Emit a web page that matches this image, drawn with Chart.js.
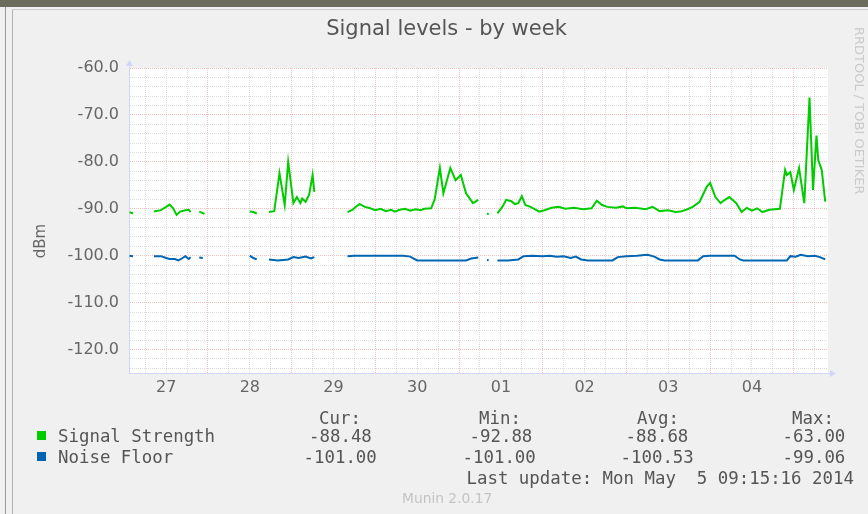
<!DOCTYPE html>
<html>
<head>
<meta charset="utf-8">
<title>Signal levels - by week</title>
<script src="https://cdn.jsdelivr.net/npm/chart.js@4.4.1/dist/chart.umd.min.js"></script>
<style>
    html, body { margin: 0; padding: 0; }
    body {
        width: 868px; height: 514px; position: relative; overflow: hidden;
        background: #f0f0f0; font-family: "DejaVu Sans", sans-serif;
    }
    #topbar { position: absolute; left: 0; top: 0; width: 868px; height: 7px; background: #6c6d5d; }
    #edge1 { position: absolute; left: 5px; top: 7px; width: 1px; height: 507px; background: #9a9a9a; }
    #edge2 { position: absolute; left: 12px; top: 9px; width: 1px; height: 505px; background: #b4b4b4; }
    #edgeTop { position: absolute; left: 12px; top: 9px; width: 856px; height: 1px; background: #cfcfcf; }
    #wrap { position: absolute; left: 0; top: 0; width: 868px; height: 514px; }
    .mono {
        position: absolute; white-space: pre; font-family: "DejaVu Sans Mono", monospace;
        font-size: 17.4px; line-height: 20px; color: #555;
    }
    .swatch { position: absolute; width: 9px; height: 9px; }
    #ylabel {
        position: absolute; left: 10px; top: 231px; width: 60px; height: 20px; line-height: 20px;
        text-align: center; font-size: 15px; color: #666; transform: rotate(-90deg);
    }
    #munin { position: absolute; left: 402px; top: 490px; font-size: 13.8px; line-height: 16px; color: #c4c4c4; }
    #rrd {
        position: absolute; left: 852px; top: 27px; writing-mode: vertical-rl;
        font-size: 13px; line-height: 14px; color: #cacaca;
    }
</style>
</head>
<body>
<div id="topbar"></div>
<div id="edge1"></div>
<div id="edge2"></div>
<div id="edgeTop"></div>
<div id="wrap"><canvas id="signalChart" width="868" height="514"></canvas></div>
<div id="ylabel">dBm</div>
<div id="rrd">RRDTOOL / TOBI OETIKER</div>
<div id="munin">Munin 2.0.17</div>
<div id="legend"></div>

<script>
// hours since Apr 27 00:00, 30 min samples (null = no data)
const dayLabels = ['27', '28', '29', '30', '01', '02', '03', '04'];

const signalHours = [
    1.5, 2.5, 5,
    8.5, 10.5, 12, 13, 14, 15, 16, 17.5, 18.5, 19, 20,
    21.5, 23, 30,
    36, 37, 38, 40,
    41.5, 43, 44.5, 46, 47, 48.5, 49.5, 50.5, 51, 52, 53, 54, 54.5, 60,
    64, 65.5, 66.5, 67.5, 69, 70.5, 72, 73.5, 75, 76.5, 77.5, 79, 80.5, 82, 83.5, 85, 86, 88, 89,
    90.5, 91.5, 93.5, 95, 96.5, 98, 100, 101.5, 103,
    104, 104.5, 106,
    107, 108.5, 109.5, 111, 112, 113, 114, 115, 116.5, 119, 120.5, 122.5, 124.5, 126.5, 129,
    131.5, 134, 135.5, 137, 138.5, 141, 143, 144, 146.5, 149.5, 151.5, 153.5, 156, 158, 159.5,
    161.5, 163, 165, 167, 168, 169.5, 171, 172, 173.5, 175.5, 177, 178.5, 180, 181.5, 183, 185,
    188, 189.5, 190, 191, 192, 193.5, 195, 196.5, 197.5, 198.5, 199, 200, 201
];
const signalDbm = [
    -90.7, -91.0, null,
    -90.6, -90.3, -89.6, -89.1, -89.9, -91.3, -90.6, -90.3, -90.2, -90.7, null,
    -90.6, -91.1, null,
    -90.6, -90.7, -91.0, null,
    -90.7, -90.5, -82.4, -89.2, -80.0, -88.8, -87.5, -88.8, -87.8, -88.5, -87.0, -82.8, -86.4, null,
    -90.7, -90.2, -89.5, -89.0, -89.6, -89.9, -90.3, -90.0, -90.5, -90.2, -90.6, -90.2, -90.0, -90.4, -90.1, -90.3, -90.0, -89.9, -88.0,
    -81.3, -86.7, -81.3, -83.9, -82.8, -86.7, -88.8, -88.1, null,
    -91.0, -91.2, null,
    -91.0, -89.5, -88.1, -88.4, -89.0, -88.8, -87.3, -89.2, -89.6, -90.6, -90.3, -89.8, -89.6, -90.0, -89.8,
    -90.1, -89.9, -88.3, -89.2, -89.6, -89.8, -89.5, -89.9, -89.8, -90.1, -89.6, -90.5, -90.3, -90.7, -90.6,
    -90.1, -89.6, -88.5, -85.3, -84.5, -87.5, -88.8, -88.2, -87.5, -88.8, -90.7, -89.8, -90.4, -89.9, -90.7, -90.2,
    -90.0, -81.7, -82.8, -82.2, -86.0, -81.3, -88.8, -66.3, -86.0, -74.4, -79.6, -81.7, -88.5
];

const noiseHours = [
    1.5, 2.5, 5,
    8.5, 10.5, 12, 13, 14.5, 15.5, 16.5, 17.5, 18.5, 19, 20,
    21.5, 22.5, 30,
    36, 37, 38, 40,
    41.5, 44, 47, 48.5, 50, 52, 53.5, 54.5, 60,
    64, 66, 70, 75, 80, 82, 83, 84, 90, 95, 98, 99.5, 101.5, 103,
    104, 104.5, 106,
    107, 110, 113, 114.5, 117, 120, 122, 124, 126, 128, 129.5, 131, 133, 140, 141.5, 144,
    147, 150, 152, 153.5, 155, 160, 164.5, 166, 168, 171, 175, 176.5, 177.5, 184, 190,
    191, 192.5, 194, 196, 198, 199.5, 201
];
const noiseDbm = [
    -100.0, -100.1, null,
    -100.1, -100.1, -100.5, -100.7, -100.7, -101.0, -100.6, -100.1, -100.7, -100.3, null,
    -100.4, -100.5, null,
    -100.0, -100.5, -100.8, null,
    -100.8, -101.0, -100.8, -100.3, -100.5, -100.2, -100.6, -100.3, null,
    -100.1, -100.0, -100.0, -100.0, -100.0, -100.2, -100.6, -101.0, -101.0, -101.0, -101.0, -100.6, -100.4, null,
    -100.9, -101.0, null,
    -101.0, -101.0, -100.8, -100.1, -100.0, -100.1, -100.0, -100.2, -100.1, -100.5, -100.2, -100.8, -101.0, -101.0, -100.3, -100.1,
    -100.0, -99.8, -100.2, -100.8, -101.0, -101.0, -101.0, -100.1, -100.0, -100.0, -100.0, -100.8, -101.0, -101.0, -101.0,
    -100.1, -100.2, -99.8, -100.1, -100.0, -100.3, -100.8
];

const seriesNames = ['Signal Strength', 'Noise Floor'];
const seriesColors = ['#00cc00', '#0066b3'];
const statHeaders = ['Cur:', 'Min:', 'Avg:', 'Max:'];
const signalStats = ['-88.48', '-92.88', '-88.68', '-63.00'];
const noiseStats = ['-101.00', '-101.00', '-100.53', '-99.06'];
const lastUpdate = 'Last update: Mon May  5 09:15:16 2014';

const xMin = 1.35, xMax = 201.8;
const yMin = -125, yMax = -60;

const gridMinor = 'rgba(150, 150, 150, 0.32)';
const gridMajor = 'rgba(230, 90, 90, 0.38)';
const axisColor = '#cfd6f8';

document.addEventListener('DOMContentLoaded', function() {
    drawChart();
    drawLegend();
});

function toPoints(hours, values) {
    return hours.map((h, i) => ({ x: h, y: values[i] }));
}

const canvasDecor = {
    id: 'canvasDecor',
    beforeDraw(chart) {
        const { ctx, chartArea: a } = chart;
        ctx.save();
        ctx.fillStyle = '#ffffff';
        ctx.fillRect(a.left, a.top, a.right - a.left, a.bottom - a.top);
        ctx.restore();
    },
    afterDraw(chart) {
        const { ctx, chartArea: a } = chart;
        ctx.save();
        ctx.strokeStyle = axisColor;
        ctx.fillStyle = axisColor;
        ctx.lineWidth = 1;
        ctx.beginPath();
        ctx.moveTo(a.right, a.bottom + 0.5);
        ctx.lineTo(a.right + 3, a.bottom + 0.5);
        ctx.moveTo(a.left + 0.5, a.top);
        ctx.lineTo(a.left + 0.5, a.top - 3);
        ctx.stroke();
        // arrow heads
        ctx.beginPath();
        ctx.moveTo(a.right + 8, a.bottom + 0.5);
        ctx.lineTo(a.right + 2, a.bottom - 3);
        ctx.lineTo(a.right + 2, a.bottom + 4);
        ctx.closePath();
        ctx.fill();
        ctx.beginPath();
        ctx.moveTo(a.left + 0.5, a.top - 8);
        ctx.lineTo(a.left - 3, a.top - 2);
        ctx.lineTo(a.left + 4, a.top - 2);
        ctx.closePath();
        ctx.fill();
        ctx.restore();
    }
};

function drawChart() {
    const ctx = document.getElementById('signalChart');

    new Chart(ctx, {
        type: 'line',
        data: {
            datasets: [{
                label: seriesNames[0],
                data: toPoints(signalHours, signalDbm),
                borderColor: seriesColors[0],
                backgroundColor: seriesColors[0],
                borderWidth: 2,
                pointRadius: 0,
                tension: 0,
                spanGaps: false
            }, {
                label: seriesNames[1],
                data: toPoints(noiseHours, noiseDbm),
                borderColor: seriesColors[1],
                backgroundColor: seriesColors[1],
                borderWidth: 2,
                pointRadius: 0,
                tension: 0,
                spanGaps: false
            }]
        },
        options: {
            responsive: false,
            animation: false,
            layout: {
                padding: { left: 65, right: 40, top: 0, bottom: 111 }
            },
            plugins: {
                legend: { display: false },
                tooltip: { enabled: false },
                title: {
                    display: true,
                    text: 'Signal levels - by week',
                    color: '#555',
                    font: { family: 'DejaVu Sans', size: 21, weight: 'normal' },
                    padding: { top: 16.6, bottom: 26.2 }
                }
            },
            scales: {
                x: {
                    type: 'linear',
                    min: xMin,
                    max: xMax,
                    afterBuildTicks: scale => {
                        const ticks = [];
                        for (let h = 6; h < xMax; h += 6) ticks.push({ value: h });
                        scale.ticks = ticks;
                    },
                    afterFit: scale => { scale.height = 30; },
                    ticks: {
                        autoSkip: false,
                        maxRotation: 0,
                        padding: 5,
                        color: '#666',
                        font: { family: 'DejaVu Sans', size: 16 },
                        callback: value => value % 24 === 12 ? dayLabels[(value - 12) / 24] : ''
                    },
                    grid: {
                        drawTicks: false,
                        lineWidth: 1,
                        color: c => (c.tick && c.tick.value % 24 === 0) ? gridMajor : gridMinor
                    },
                    border: { display: true, color: axisColor, width: 1, dash: [1, 1] }
                },
                y: {
                    type: 'linear',
                    min: yMin,
                    max: yMax,
                    afterBuildTicks: scale => {
                        const ticks = [];
                        for (let v = -124; v <= yMax; v += 2) ticks.push({ value: v });
                        scale.ticks = ticks;
                    },
                    afterFit: scale => { scale.width = 64; },
                    ticks: {
                        autoSkip: false,
                        padding: 10,
                        color: '#666',
                        font: { family: 'DejaVu Sans', size: 16 },
                        callback: value => value % 10 === 0 ? value.toFixed(1) : ''
                    },
                    grid: {
                        drawTicks: false,
                        lineWidth: 1,
                        color: c => (c.tick && c.tick.value % 10 === 0) ? gridMajor : gridMinor
                    },
                    border: { display: true, color: axisColor, width: 1, dash: [1, 1] }
                }
            }
        },
        plugins: [canvasDecor]
    });
}

function drawLegend() {
    const legend = document.getElementById('legend');
    const headerX = [319, 479, 637, 792];
    const signalX = [309, 469.5, 625.5, 782.5];
    const noiseX = [303.5, 462.5, 620.5, 782.5];

    let html = '';
    statHeaders.forEach((h, i) => {
        html += `<div class="mono" style="left:${headerX[i]}px; top:408px;">${h}</div>`;
    });

    html += `<div class="swatch" style="left:37px; top:431px; background:${seriesColors[0]};"></div>`;
    html += `<div class="mono" style="left:58px; top:426px;">${seriesNames[0]}</div>`;
    signalStats.forEach((s, i) => {
        html += `<div class="mono" style="left:${signalX[i]}px; top:426px;">${s}</div>`;
    });

    html += `<div class="swatch" style="left:37px; top:452px; background:${seriesColors[1]};"></div>`;
    html += `<div class="mono" style="left:58px; top:447px;">${seriesNames[1]}</div>`;
    noiseStats.forEach((s, i) => {
        html += `<div class="mono" style="left:${noiseX[i]}px; top:447px;">${s}</div>`;
    });

    html += `<div class="mono" style="left:466.5px; top:468px;">${lastUpdate}</div>`;
    legend.innerHTML = html;
}
</script>
</body>
</html>
